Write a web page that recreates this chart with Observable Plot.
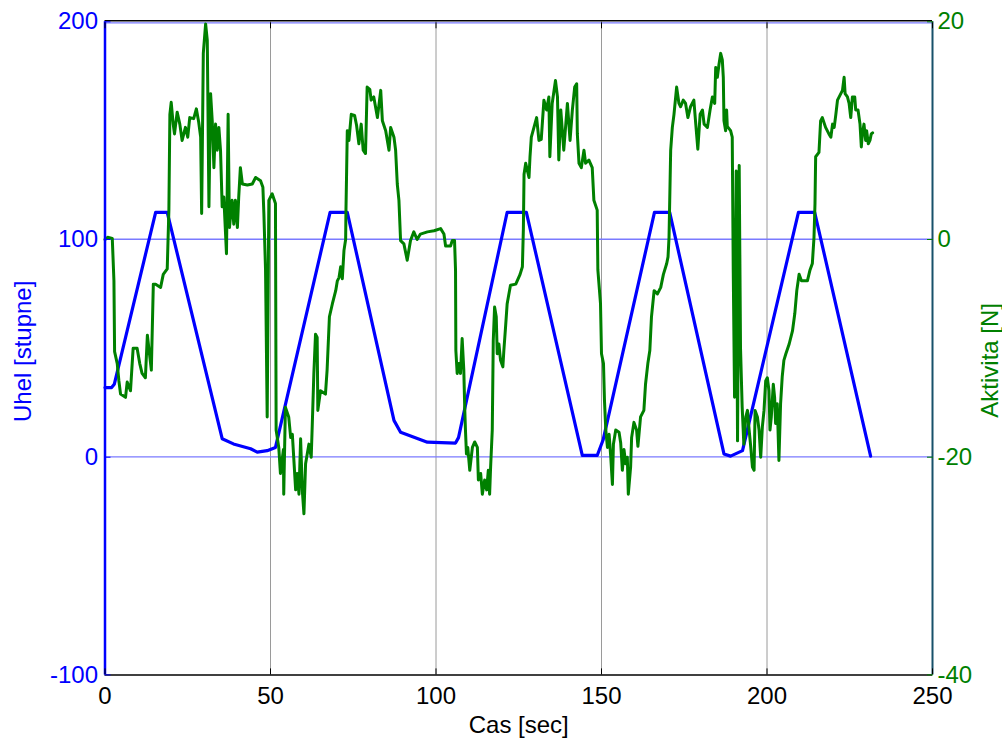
<!DOCTYPE html>
<html>
<head>
<meta charset="utf-8">
<script src="https://cdn.jsdelivr.net/npm/d3@7"></script>
<script src="https://cdn.jsdelivr.net/npm/@observablehq/plot@0.6"></script>
<style>
  html, body { margin: 0; padding: 0; background: #fff; }
  #chart svg { display: block; }
</style>
</head>
<body>
<div id="chart"></div>
<script>
// ---- Data ----
const xTicks = [0, 50, 100, 150, 200, 250];
const leftTicks = [-100, 0, 100, 200];       // Uhel [stupne]
const rightTicks = [-40, -20, 0, 20];        // Aktivita [N]
const xGrid = [50, 100, 150, 200];
const yGrid = [0, 100];

// Uhel [stupne] vs Cas [sec]
const uhelSeries = [
  [0, 32], [2, 32], [2.8, 33.5], [15.3, 112.5], [18.8, 112.5], [35.4, 8.5], [38.8, 6.1],
  [44, 3.9], [46, 2.3], [49, 3], [51.5, 4.5], [68, 112.5], [73.2, 112.5], [87.3, 16.9],
  [89.3, 11.5], [97.4, 6.9], [105.9, 6.5], [106.8, 9], [121.5, 112.5], [127.3, 112.5],
  [144.2, 0.8], [148.7, 0.8], [150.5, 8], [166, 112.5], [170.6, 112.5], [187, 1.5],
  [189, 0.5], [192.6, 3], [209.5, 112.5], [214.4, 112.5], [231.3, 0.5]
];

// Aktivita [N] vs Cas [sec]
const aktivitaSeries = [
  [0,0],[0.8,0.2],[2.2,0.1],[2.7,-3.8],[2.9,-10.3],[3.7,-11.4],[4.2,-13],[4.7,-14.2],[6.2,-14.5],[6.7,-13.1],
  [7.7,-13.9],[8.5,-10],[9.7,-10],[10.5,-11.4],[11.2,-12.3],[12.2,-12.7],[12.8,-8.8],[14.0,-12],[14.6,-4.1],[15.3,-4.1],
  [16.8,-4.4],[17.6,-3.2],[18.8,-2.7],[19.3,2.7],[19.6,11.5],[20.0,12.6],[20.6,10.6],[21.0,9.7],[21.8,11.7],[22.6,10.6],
  [23.3,9.1],[24.3,10.3],[25.0,9.4],[25.6,11.2],[26.8,11.1],[27.6,12],[28.3,10.8],[28.9,9.4],[29.2,2.4],[29.7,17.1],
  [30.4,19.8],[30.9,18.3],[31.4,3],[31.9,13.4],[32.4,10.9],[32.9,6.6],[33.4,10.6],[33.9,8.2],[34.4,10.3],[34.9,8.2],
  [35.4,3],[35.9,3.9],[36.7,-1.3],[37.2,11.5],[37.6,1.1],[38.4,3.6],[38.9,1.4],[39.4,3.6],[40.0,1.1],[40.4,3.9],
  [40.9,6.6],[41.5,5.1],[43.0,5.0],[44.5,5.1],[45.5,5.7],[47.0,5.4],[47.7,4.8],[48.0,2.4],[48.5,-2.8],[49.0,-16.3],
  [49.5,3.6],[50.5,4.2],[51.5,3.3],[51.7,-17.5],[52.5,-19.1],[53.0,-21.5],[53.9,-19.3],[54.0,-23.4],[54.5,-15.4],[55.5,-16.3],
  [56.1,-18.2],[56.6,-17.9],[57.6,-23],[58.1,-21.5],[58.6,-23.4],[59.1,-18.3],[59.6,-23],[60.1,-25.2],[60.6,-20.6],[61.6,-18.8],
  [62.3,-20],[62.6,-17.2],[63.1,-12.3],[63.6,-8.7],[64.1,-9],[64.3,-15.7],[65.1,-13.9],[66.6,-14.2],[67.1,-12],[67.8,-7.1],
  [68.7,-5.9],[69.7,-4.7],[70.2,-3.8],[70.7,-3.5],[71.2,-2.5],[71.7,-3.6],[72.2,-1],[72.7,0],[72.8,2.7],[73.0,6.3],
  [73.2,10],[73.7,9.1],[74.4,11.5],[75.4,11.4],[76.0,10.5],[76.7,8.8],[77.4,10.6],[78.0,8.2],[78.7,7.9],[79.2,14],
  [80.0,13.8],[80.4,12.8],[81.2,13.1],[82.3,11.2],[83.3,13.7],[83.8,10.9],[84.8,10],[85.8,8.2],[86.3,10.3],[87.3,9.4],
  [87.8,8.2],[88.3,5.1],[88.8,3.6],[89.3,-0.1],[90.3,-0.4],[91.3,-1.9],[92.3,-0.1],[93.3,0.7],[94.3,0],[95.3,0.5],
  [97.4,0.7],[99.4,0.8],[101.4,1],[102.4,0.5],[102.9,-0.6],[104.4,-0.6],[104.9,-0.1],[105.6,-0.1],[105.9,-2.8],[106.0,-10.2],
  [106.4,-12.3],[106.9,-11.4],[107.4,-12.3],[107.9,-9.1],[108.4,-12],[108.7,-15.7],[108.9,-17.5],[109.2,-19.7],[109.6,-19.1],[110.2,-21.2],
  [111.0,-19.1],[111.7,-18.6],[112.5,-19.1],[112.8,-22.1],[113.5,-21.5],[114.0,-23.4],[114.7,-22.1],[115.3,-23],[115.8,-21.2],[116.2,-23.4],
  [116.5,-20.9],[117.0,-17.5],[117.3,-9.3],[117.7,-6.2],[118.2,-7.1],[118.5,-10.5],[119.0,-9.6],[119.5,-11.1],[120.2,-11.7],[120.5,-10.2],
  [121.0,-8.1],[121.5,-5.9],[122.5,-4.2],[124.1,-4.1],[125.4,-3.2],[126.1,-2.5],[126.4,1],[126.6,6],[127.1,7],[128.1,5.7],
  [128.4,7.6],[128.8,9.4],[129.6,10.3],[130.4,11.2],[131.1,9.1],[131.8,9.2],[132.6,12.8],[133.4,11.9],[134.1,13.1],[134.4,7.6],
  [135.1,12.5],[136.1,14.6],[136.7,13.1],[137.1,7.3],[137.7,11.9],[138.6,8.2],[139.7,12.5],[140.5,9.1],[141.2,11.9],[141.9,14],
  [142.5,14.3],[142.7,9.7],[143.2,7],[143.9,6.6],[144.7,8.2],[145.2,7],[146.2,7.3],[147.2,6.6],[147.7,3.6],[148.7,2.7],
  [148.9,-2.8],[149.7,-5.9],[150.0,-10.5],[150.6,-11.4],[150.9,-14.8],[151.3,-17.5],[151.8,-19.1],[152.3,-17.9],[152.8,-20],[153.3,-22.5],
  [153.6,-18.8],[154.3,-17.5],[155.3,-17.7],[155.8,-18.7],[156.3,-21.2],[156.8,-19.3],[157.3,-20.6],[157.8,-20],[158.1,-23.4],[158.8,-20.9],
  [159.1,-18.2],[159.8,-16.8],[160.6,-17.5],[161.0,-19],[161.8,-16.3],[162.8,-15.7],[163.3,-13.3],[164.0,-11.4],[164.6,-10.2],[165.1,-7.1],
  [165.9,-4.7],[166.9,-5],[167.9,-4.4],[168.7,-3.2],[169.7,-2.2],[170.1,-1.6],[170.4,0.2],[170.9,8.2],[171.4,10.3],[171.9,11.5],
  [172.7,14],[173.4,12.5],[173.9,12.2],[174.7,12.8],[175.4,12.5],[176.1,11.2],[176.9,12.2],[177.9,12.8],[178.4,10.9],[179.1,8.3],
  [179.8,11.5],[180.5,11.9],[181.0,10.6],[182.0,10.3],[182.8,11.9],[183.5,13.1],[184.2,12.5],[184.5,15.8],[185.0,14.9],[185.5,16.1],
  [186.0,17.1],[186.5,16.5],[186.8,14.9],[187.0,10.9],[187.5,10],[187.8,11.9],[188.0,10.4],[189.0,10],[189.5,9.4],[189.8,-2.8],
  [190.2,-14.5],[190.7,6.3],[191.1,-18.5],[191.6,6.8],[192.0,-10],[192.5,-15.4],[193.0,-18.8],[193.6,-16.3],[194.1,-15.7],[194.6,-17.5],
  [195.1,-19.1],[195.6,-20.9],[196.1,-21.2],[196.4,-15.7],[197.1,-16.3],[197.6,-17.5],[198.1,-20],[198.6,-17.2],[199.1,-15.7],[199.6,-13],
  [200.1,-12.7],[200.6,-13.9],[200.9,-17.5],[201.3,-16.3],[201.9,-13.3],[202.3,-14.5],[202.6,-16.9],[203.1,-15.1],[203.6,-20.3],[204.1,-15.1],
  [204.6,-12.6],[205.1,-11.1],[205.7,-10.5],[206.7,-9.6],[207.7,-8.4],[208.4,-6.8],[209.0,-4.7],[209.7,-3.2],[210.4,-3.8],[212.2,-3.8],
  [213.0,-2.8],[213.7,-2.2],[214.2,0.2],[214.5,3.3],[214.7,7.6],[215.7,8],[216.2,10.9],[216.7,11.2],[217.7,10.3],[218.7,9.7],
  [219.3,9.4],[219.8,10.6],[220.3,10.3],[220.8,11.5],[221.3,12.8],[222.3,13.4],[222.8,13.7],[223.3,14.9],[223.6,13.4],[224.3,13.1],
  [224.8,12.5],[225.3,11.2],[225.8,13.1],[226.5,13.1],[226.8,11.9],[227.5,11.9],[228.1,10.6],[228.5,8.5],[228.8,9.7],[229.3,10.6],
  [229.8,9.1],[230.1,10],[230.6,8.8],[231.1,9.1],[231.5,9.7],[231.9,9.8]
];

const xLabel = "Cas [sec]";
const leftLabel = "Uhel [stupne]";
const rightLabel = "Aktivita [N]";

// ---- Right axis (N) is mapped onto the left axis (stupne): -40..20 -> -100..200 ----
const nToLeft = d3.scaleLinear().domain([-40, 20]).range([-100, 200]);
const leftToN = (d) => nToLeft.invert(d);

const BLUE = "#0000ff";
const GREEN = "#008000";
const GRID_Y = "#7a7aff";
const FONT = 24;

const uhelData = uhelSeries.map(([t, v]) => ({t, v}));
const aktData = aktivitaSeries.map(([t, n]) => ({t, v: nToLeft(n)}));

const chart = Plot.plot({
  width: 1002,
  height: 740,
  marginLeft: 104.5,
  marginRight: 70,
  marginTop: 21.3,
  marginBottom: 65.6,
  style: {fontFamily: "'Liberation Sans', Arial, sans-serif", fontSize: FONT + "px", background: "#fff", overflow: "visible"},
  x: {domain: [0, 250]},
  y: {domain: [-100, 200]},
  marks: [
    // grid
    Plot.ruleX(xGrid, {stroke: "#9a9a9a", strokeWidth: 1}),
    Plot.ruleY(yGrid, {stroke: GRID_Y, strokeWidth: 1.4, dy: -0.3}),
    Plot.ruleY([200], {stroke: GRID_Y, strokeWidth: 1.2, dy: 1}),
    // data
    Plot.line(uhelData, {x: "t", y: "v", stroke: BLUE, strokeWidth: 3.2, strokeLinejoin: "round"}),
    Plot.line(aktData, {x: "t", y: "v", stroke: GREEN, strokeWidth: 3, strokeLinejoin: "round"}),
    // frame
    Plot.ruleY([-100], {stroke: "#000", strokeWidth: 1.5}),
    Plot.ruleY([200], {stroke: "#000", strokeWidth: 1.5, dy: -1}),
    Plot.ruleX([0], {stroke: BLUE, strokeWidth: 2.5}),
    Plot.ruleX([250], {stroke: "#17516a", strokeWidth: 2}),
    // inward ticks
    Plot.axisX({anchor: "bottom", ticks: xTicks, tickSize: -6, text: null, label: null, stroke: "#000"}),
    Plot.axisX({anchor: "top", ticks: xTicks, tickSize: -6, text: null, label: null, stroke: "#000"}),
    Plot.axisY({anchor: "left", ticks: leftTicks, tickSize: -6, text: null, label: null, stroke: BLUE}),
    Plot.axisY({anchor: "right", ticks: rightTicks.map(nToLeft), tickSize: -6, text: null, label: null, stroke: GREEN}),
    // tick labels
    Plot.axisX({anchor: "bottom", ticks: xTicks, tickSize: 0, tickPadding: 12, label: null, fill: "#000", fontSize: FONT, tickFormat: d => String(d)}),
    Plot.axisY({anchor: "left", ticks: leftTicks, tickSize: 0, tickPadding: 7, label: null, fill: BLUE, fontSize: FONT, tickFormat: d => String(d)}),
    Plot.axisY({anchor: "right", ticks: rightTicks.map(nToLeft), tickSize: 0, tickPadding: 5, label: null, fill: GREEN, fontSize: FONT, tickFormat: d => String(Math.round(leftToN(d)))}),
    // axis titles
    Plot.text([xLabel], {frameAnchor: "bottom", textAnchor: "middle", lineAnchor: "top", dy: 41.5, fill: "#000", fontSize: FONT}),
    Plot.text([leftLabel], {frameAnchor: "left", textAnchor: "middle", rotate: -90, dx: -82, dy: 3, fill: BLUE, fontSize: FONT}),
    Plot.text([rightLabel], {frameAnchor: "right", textAnchor: "middle", rotate: -90, dx: 58, dy: 12, fill: GREEN, fontSize: FONT})
  ]
});

document.getElementById("chart").appendChild(chart);
</script>
</body>
</html>
